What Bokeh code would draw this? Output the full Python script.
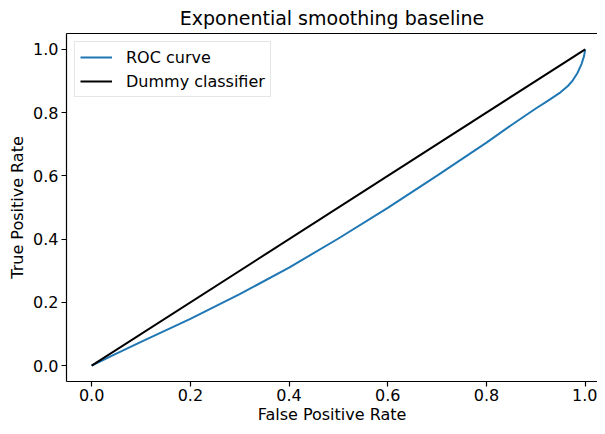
from bokeh.plotting import figure
from bokeh.models import FixedTicker, NumeralTickFormatter, Range1d, Legend, LegendItem, LinearAxis
from bokeh.embed import file_html
from bokeh.resources import INLINE

# Data
fpr = [0.0, 0.05, 0.1, 0.2, 0.3, 0.4, 0.5, 0.6, 0.7, 0.8, 0.85, 0.9, 0.925,
       0.95, 0.965, 0.975, 0.985, 0.993, 0.998, 1.0]
tpr = [0.0, 0.038, 0.075, 0.148, 0.226, 0.310, 0.402, 0.499, 0.601, 0.705, 0.760, 0.813, 0.838,
       0.864, 0.884, 0.902, 0.927, 0.955, 0.980, 1.0]
dummy_x = [0.0, 1.0]
dummy_y = [0.0, 1.0]
ticks = [0.0, 0.2, 0.4, 0.6, 0.8, 1.0]

title_text = "Exponential smoothing baseline"
x_label = "False Positive Rate"
y_label = "True Positive Rate"
roc_label = "ROC curve"
dummy_label = "Dummy classifier"

FONT = "DejaVu Sans"

p = figure(width=597, height=426, output_backend="svg", toolbar_location=None,
           x_range=Range1d(-0.051, 1.025), y_range=Range1d(-0.05, 1.05),
           min_border_left=66, min_border_right=0, min_border_top=0, min_border_bottom=0)

p.title.text = title_text
p.title.align = "center"
p.title.text_font = FONT
p.title.text_font_size = "19px"
p.title.text_font_style = "normal"
p.title.text_color = "black"
p.title.offset = 0
p.title.standoff = 9

p.xgrid.visible = False
p.ygrid.visible = False
p.outline_line_color = None

for ax, lab in ((p.xaxis[0], x_label), (p.yaxis[0], y_label)):
    ax.axis_label = lab
    ax.ticker = FixedTicker(ticks=ticks, minor_ticks=[])
    ax.formatter = NumeralTickFormatter(format="0.0")
    ax.axis_label_text_font = FONT
    ax.axis_label_text_font_size = "16px"
    ax.axis_label_text_font_style = "normal"
    ax.axis_label_text_color = "black"
    ax.major_label_text_font = FONT
    ax.major_label_text_font_size = "16px"
    ax.major_label_text_color = "black"
    ax.major_tick_out = 5
    ax.major_tick_in = 0
    ax.minor_tick_out = 0
    ax.minor_tick_in = 0
    ax.major_tick_line_color = "black"
    ax.major_tick_line_width = 1.2
    ax.axis_line_color = "black"
    ax.axis_line_width = 1.2

p.xaxis[0].major_label_standoff = 2
p.xaxis[0].axis_label_standoff = 1
p.yaxis[0].major_label_standoff = 3
p.yaxis[0].axis_label_standoff = 3
p.yaxis[0].major_label_orientation = "horizontal"

# top spine (right spine lies outside the cropped reference)
top = LinearAxis(ticker=FixedTicker(ticks=[]), major_label_text_font_size="0px",
                 major_tick_out=0, major_tick_in=0, minor_tick_out=0, minor_tick_in=0,
                 axis_line_color="black", axis_line_width=1.2)
p.add_layout(top, "above")

r1 = p.line(fpr, tpr, line_color="#1f77b4", line_width=2)
r2 = p.line(dummy_x, dummy_y, line_color="black", line_width=2)

legend = Legend(items=[LegendItem(label=roc_label, renderers=[r1]),
                       LegendItem(label=dummy_label, renderers=[r2])],
                location="top_left")
legend.label_text_font = FONT
legend.label_text_font_size = "16px"
legend.label_text_color = "black"
legend.border_line_color = "#cccccc"
legend.border_line_width = 1
legend.background_fill_alpha = 0.8
legend.glyph_width = 32
legend.glyph_height = 20
legend.label_height = 20
legend.spacing = 4
legend.padding = 5
legend.margin = 8
legend.label_standoff = 14
p.add_layout(legend, "center")

open("out.html", "w").write(file_html(p, INLINE))
